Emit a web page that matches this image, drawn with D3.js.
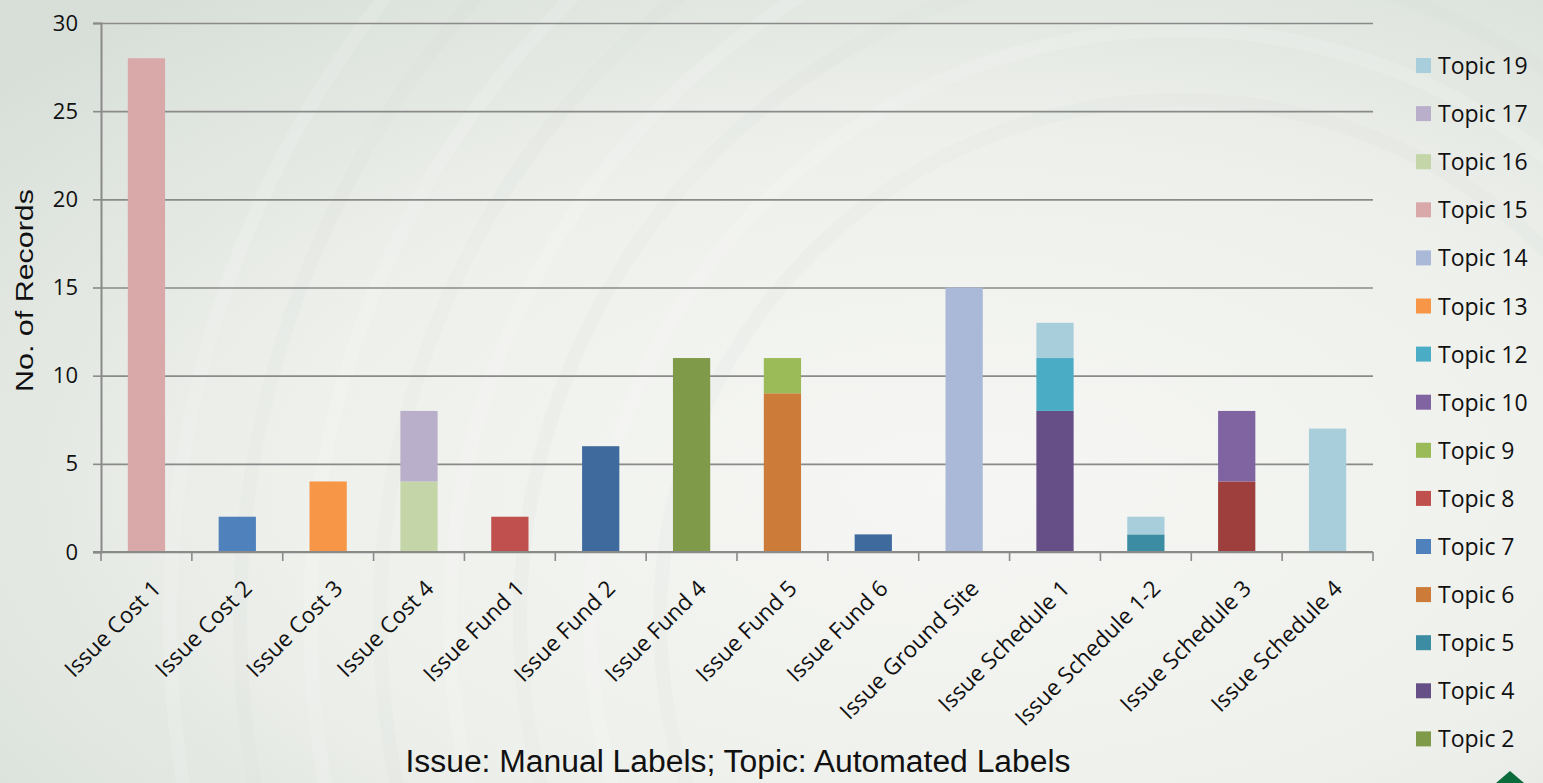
<!DOCTYPE html>
<html>
<head>
<meta charset="utf-8">
<script src="https://cdn.jsdelivr.net/npm/d3@7"></script>
<style>
  body { margin: 0; padding: 0; overflow: hidden; }
  svg { display: block; }
</style>
</head>
<body>
<div id="chart"></div>
<script>
// Stacked bar chart: manual issue labels vs automated topic labels

// categories on the x axis
var issues = ["Issue Cost 1", "Issue Cost 2", "Issue Cost 3", "Issue Cost 4",
  "Issue Fund 1", "Issue Fund 2", "Issue Fund 4", "Issue Fund 5", "Issue Fund 6",
  "Issue Ground Site", "Issue Schedule 1", "Issue Schedule 1-2",
  "Issue Schedule 3", "Issue Schedule 4"];

// topic series, in stacking order (bottom first)
var topics = ["Topic 1", "Topic 2", "Topic 3", "Topic 4", "Topic 5", "Topic 6",
  "Topic 7", "Topic 8", "Topic 9", "Topic 10", "Topic 12", "Topic 13",
  "Topic 14", "Topic 15", "Topic 16", "Topic 17", "Topic 19"];

var topicColors = ["#3f6a9d", "#7f9a48", "#9e3f3d", "#664f86", "#3c8ca3", "#cc7b38",
  "#4f81bd", "#c0504d", "#9bbb59", "#8064a2", "#4bacc6", "#f79646",
  "#a9b9d7", "#d9a9aa", "#c4d6a8", "#b9afcb", "#a8cedc"];

// number of records per topic, one array per issue (same order as topics)
//                 T1 T2 T3 T4 T5 T6 T7 T8 T9 T10 T12 T13 T14 T15 T16 T17 T19
var costOne      = [0, 0, 0, 0, 0, 0, 0, 0, 0, 0,  0,  0,  0,  28, 0,  0,  0];
var costTwo      = [0, 0, 0, 0, 0, 0, 2, 0, 0, 0,  0,  0,  0,  0,  0,  0,  0];
var costThree    = [0, 0, 0, 0, 0, 0, 0, 0, 0, 0,  0,  4,  0,  0,  0,  0,  0];
var costFour     = [0, 0, 0, 0, 0, 0, 0, 0, 0, 0,  0,  0,  0,  0,  4,  4,  0];
var fundOne      = [0, 0, 0, 0, 0, 0, 0, 2, 0, 0,  0,  0,  0,  0,  0,  0,  0];
var fundTwo      = [6, 0, 0, 0, 0, 0, 0, 0, 0, 0,  0,  0,  0,  0,  0,  0,  0];
var fundFour     = [0, 11,0, 0, 0, 0, 0, 0, 0, 0,  0,  0,  0,  0,  0,  0,  0];
var fundFive     = [0, 0, 0, 0, 0, 9, 0, 0, 2, 0,  0,  0,  0,  0,  0,  0,  0];
var fundSix      = [1, 0, 0, 0, 0, 0, 0, 0, 0, 0,  0,  0,  0,  0,  0,  0,  0];
var groundSite   = [0, 0, 0, 0, 0, 0, 0, 0, 0, 0,  0,  0,  15, 0,  0,  0,  0];
var scheduleOne  = [0, 0, 0, 8, 0, 0, 0, 0, 0, 0,  3,  0,  0,  0,  0,  0,  2];
var scheduleOneTwo = [0, 0, 0, 0, 1, 0, 0, 0, 0, 0, 0,  0,  0,  0,  0,  0,  1];
var scheduleThree = [0, 0, 4, 0, 0, 0, 0, 0, 0, 4,  0,  0,  0,  0,  0,  0,  0];
var scheduleFour = [0, 0, 0, 0, 0, 0, 0, 0, 0, 0,  0,  0,  0,  0,  0,  0,  7];

var counts = [costOne, costTwo, costThree, costFour, fundOne, fundTwo, fundFour,
  fundFive, fundSix, groundSite, scheduleOne, scheduleOneTwo, scheduleThree, scheduleFour];

// legend entries as shown (the list is cut off after Topic 2)
var legendTopics = ["Topic 19", "Topic 17", "Topic 16", "Topic 15", "Topic 14",
  "Topic 13", "Topic 12", "Topic 10", "Topic 9", "Topic 8", "Topic 7",
  "Topic 6", "Topic 5", "Topic 4", "Topic 2"];

var yTicks = [0, 5, 10, 15, 20, 25, 30];

//////////////////////////////////////////////////////////////////////
var width = 1543, height = 783;
var margin = { left: 101, right: 170, top: 23, bottom: 231 };
var labelFont = "'Open Sans', sans-serif";

var svg = d3.select("#chart").append("svg")
  .attr("width", width)
  .attr("height", height);

// textured looking background
var defs = svg.append("defs");
var grad = defs.append("radialGradient")
  .attr("id", "bg")
  .attr("cx", "62%").attr("cy", "62%").attr("r", "80%");
grad.append("stop").attr("offset", "0%").attr("stop-color", "#f6f7f4");
grad.append("stop").attr("offset", "55%").attr("stop-color", "#eef0ec");
grad.append("stop").attr("offset", "100%").attr("stop-color", "#d8dfd9");

svg.append("rect")
  .attr("width", width).attr("height", height)
  .attr("fill", "url(#bg)");

// faint sweeping arcs in the backdrop
var arcs = svg.append("g").attr("fill", "none");
d3.range(8).forEach(function(i) {
  arcs.append("circle")
    .attr("cx", 1180).attr("cy", 620)
    .attr("r", 520 + i * 70)
    .attr("stroke", i % 2 ? "#ffffff" : "#d3d9d3")
    .attr("stroke-width", 14)
    .attr("opacity", 0.14);
});

// scales
var xScale = d3.scaleBand()
  .domain(issues)
  .range([margin.left, width - margin.right])
  .paddingInner(0.59)
  .paddingOuter(0.295);

// width of one category slot, used for the tick marks between bars
var step = (width - margin.right - margin.left) / issues.length;

var yScale = d3.scaleLinear()
  .domain([0, 30])
  .range([height - margin.bottom, margin.top]);

var color = d3.scaleOrdinal().domain(topics).range(topicColors);

// gridlines
svg.append("g")
  .attr("class", "grid")
  .attr("transform", "translate(" + margin.left + ",0)")
  .call(d3.axisLeft(yScale).tickValues(yTicks).tickSize(-(width - margin.right - margin.left)).tickFormat(""))
  .call(function(g) {
    g.select(".domain").remove();
    g.selectAll("line").attr("stroke", "#8a8a8a").attr("stroke-width", 1.6);
  });

// stacked bars
var table = issues.map(function(name, i) {
  var row = { issue: name };
  topics.forEach(function(t, j) { row[t] = counts[i][j]; });
  return row;
});
var series = d3.stack().keys(topics)(table);

svg.append("g").selectAll("g")
  .data(series)
  .enter().append("g")
  .attr("fill", function(d) { return color(d.key); })
  .selectAll("rect")
  .data(function(d) { return d.filter(function(p) { return p[1] > p[0]; }); })
  .enter().append("rect")
  .attr("x", function(d) { return xScale(d.data.issue); })
  .attr("y", function(d) { return yScale(d[1]); })
  .attr("height", function(d) { return yScale(d[0]) - yScale(d[1]); })
  .attr("width", xScale.bandwidth());

// y axis
var yAxis = svg.append("g")
  .attr("transform", "translate(" + margin.left + ",0)")
  .call(d3.axisLeft(yScale).tickValues(yTicks).tickSize(8).tickPadding(15));
yAxis.attr("font-size", null).attr("font-family", null);
yAxis.select(".domain").attr("stroke", "#8a8a8a").attr("stroke-width", 2);
yAxis.selectAll("line").attr("stroke", "#8a8a8a").attr("stroke-width", 1.6);
yAxis.selectAll("text")
  .style("font-family", labelFont).style("font-size", "22px").attr("fill", "#111");

// x axis line with ticks at the category boundaries
var xBase = yScale(0);
svg.append("line")
  .attr("x1", margin.left - 8).attr("x2", width - margin.right)
  .attr("y1", xBase).attr("y2", xBase)
  .attr("stroke", "#8a8a8a").attr("stroke-width", 2);
svg.append("g").selectAll("line")
  .data(d3.range(issues.length + 1))
  .enter().append("line")
  .attr("x1", function(i) { return margin.left + i * step; })
  .attr("x2", function(i) { return margin.left + i * step; })
  .attr("y1", xBase).attr("y2", xBase + 9)
  .attr("stroke", "#8a8a8a").attr("stroke-width", 1.6);

// rotated category labels
svg.append("g").selectAll("text")
  .data(issues)
  .enter().append("text")
  .attr("transform", function(d) {
    return "translate(" + (xScale(d) + xScale.bandwidth() / 2 + 16) + "," + (xBase + 38) + ") rotate(-45)";
  })
  .attr("text-anchor", "end")
  .style("font-family", labelFont)
  .style("font-size", "22.5px")
  .attr("fill", "#111")
  .text(function(d) { return d; });

// axis titles
svg.append("text")
  .attr("transform", "translate(33," + ((margin.top + xBase) / 2 + 3) + ") rotate(-90)")
  .attr("text-anchor", "middle")
  .style("font-family", "'Liberation Sans', Arial, sans-serif")
  .style("font-size", "23px")
  .attr("fill", "#111")
  .attr("textLength", 203)
  .attr("lengthAdjust", "spacingAndGlyphs")
  .text("No. of Records");

svg.append("text")
  .attr("x", 738).attr("y", 772)
  .attr("text-anchor", "middle")
  .style("font-family", "'Liberation Sans', Arial, sans-serif")
  .style("font-size", "31px")
  .attr("fill", "#111")
  .attr("textLength", 665)
  .attr("lengthAdjust", "spacingAndGlyphs")
  .text("Issue: Manual Labels; Topic: Automated Labels");

// legend
var legend = svg.append("g").selectAll("g")
  .data(legendTopics)
  .enter().append("g")
  .attr("transform", function(d, i) { return "translate(1416," + (66 + i * 48.1) + ")"; });

legend.append("rect")
  .attr("x", 0).attr("y", -8)
  .attr("width", 15).attr("height", 15)
  .attr("fill", function(d) { return color(d); });

legend.append("text")
  .attr("x", 22).attr("y", 8)
  .style("font-family", labelFont)
  .style("font-size", "23px")
  .attr("fill", "#111")
  .text(function(d) { return d; });

// small green mark in the bottom right corner
svg.append("path")
  .attr("d", "M1496,783 L1510,771 L1524,783 Z")
  .attr("fill", "#0b6b3a");
</script>
</body>
</html>
